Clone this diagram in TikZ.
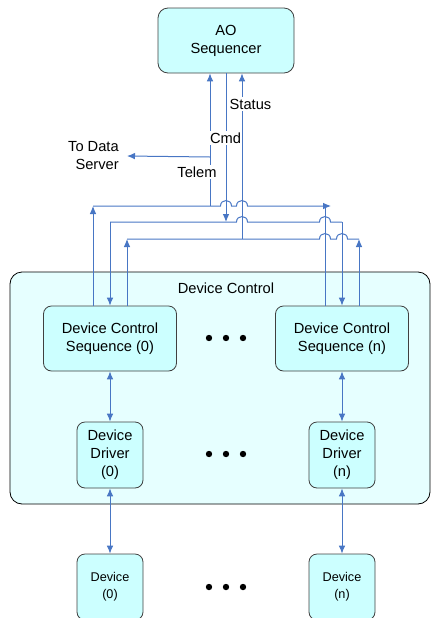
\documentclass[tikz,border=0pt]{standalone}
\usepackage{fontspec}
\setmainfont{Liberation Sans}
\usetikzlibrary{arrows.meta,calc}

\definecolor{boxfill}{RGB}{204,255,255}
\definecolor{ctlfill}{RGB}{230,255,255}
\definecolor{boxline}{RGB}{64,64,64}
\definecolor{sigblue}{RGB}{72,118,196}

\begin{document}
\begin{tikzpicture}[
  x=0.75pt, y=-0.75pt,
  font=\fontsize{11}{13.5}\selectfont,
  >={Latex[length=6pt,width=5pt]},
  blknode/.style={draw=boxline, fill=boxfill, line width=0.6pt, rounded corners=6pt, align=center, inner sep=0pt},
  seqnode/.style={blknode, rounded corners=7.5pt, minimum width=102pt, minimum height=48.75pt},
  ctlnode/.style={blknode, minimum width=99.75pt, minimum height=48.75pt},
  drvnode/.style={blknode, minimum width=49.5pt, minimum height=49.5pt},
  devnode/.style={drvnode, font=\fontsize{9.5}{12.5}\selectfont},
  sigline/.style={draw=sigblue, line width=0.75pt},
  lbltext/.style={fill=white, inner sep=1pt},
  hopover/.style 2 args={insert path={-- ({#1-5.5},#2) .. controls ({#1-5.5},{#2-7.3}) and ({#1+5.5},{#2-7.3}) .. ({#1+5.5},#2)}}
]
  \useasboundingbox (0,0) rectangle (432,618);
  \clip (0,0) rectangle (432,618);

  % device control frame
  \node[draw=black, fill=ctlfill, line width=0.6pt, rounded corners=9pt, minimum width=315pt, minimum height=174pt] (devctl) at (220,388) {};
  \node (ctltitle) at (226,288) {Device Control};

  % blocks
  \node[seqnode] (seq) at (226,40.5) {AO\\Sequencer};
  \node[ctlnode] (dcs0) at (110,338.5) {Device Control\\Sequence (0)};
  \node[ctlnode] (dcsn) at (342,338.5) {Device Control\\Sequence (n)};
  \node[drvnode] (dd0) at (110,455) {Device\\Driver\\(0)};
  \node[drvnode] (ddn) at (342,455) {Device\\Driver\\(n)};
  \node[devnode] (dev0) at (110,587) {Device\\(0)};
  \node[devnode] (devn) at (342,587) {Device\\(n)};
  \node[align=right, anchor=east, inner xsep=6pt, inner ysep=0pt] (dsrv) at (127,156) {To Data\\Server};

  % bus corners
  \coordinate (telw) at (93,206);
  \coordinate (telj) at (210,206);
  \coordinate (telr) at (325,206);
  \coordinate (tele) at (331,206);
  \coordinate (dsj) at (210,157);
  \coordinate (cmdw) at (110,222);
  \coordinate (cmde) at (342,222);
  \coordinate (staw) at (127,239);
  \coordinate (staj) at (242,239);
  \coordinate (stae) at (359,239);

  % telemetry
  \draw[sigline,->] (dcs0.north -| telw) -- (telw);
  \draw[sigline,->] (telw) [hopover={226}{206}] [hopover={242}{206}] -- (tele);
  \draw[sigline] (dcsn.north -| telr) -- (telr);
  \draw[sigline,->] (telj) -- (telj |- seq.south);
  \draw[sigline,->] (dsj) -- (dsrv.east);
  % command
  \draw[sigline,->] (seq.south) -- (seq.south |- cmdw);
  \draw[sigline] (cmdw) [hopover={242}{222}] [hopover={325}{222}] -- (cmde);
  \draw[sigline,->] (cmdw) -- (dcs0.north);
  \draw[sigline,->] (cmde) -- (dcsn.north);
  % status
  \draw[sigline,->] (dcs0.north -| staw) -- (staw);
  \draw[sigline,->] (dcsn.north -| stae) -- (stae);
  \draw[sigline] (staw) [hopover={325}{239}] [hopover={342}{239}] -- (stae);
  \draw[sigline,->] (staj) -- (staj |- seq.south);

  % sequence <-> driver <-> device
  \draw[sigline,<->] (dcs0) -- (dd0);
  \draw[sigline,<->] (dcsn) -- (ddn);
  \draw[sigline,<->] (dd0) -- (dev0);
  \draw[sigline,<->] (ddn) -- (devn);

  % line labels
  \node[lbltext] (tellbl) at (197,172) {Telem};
  \node[lbltext] (cmdlbl) at (225.5,138) {Cmd};
  \node[lbltext] (stalbl) at (250.5,104) {Status};

  \foreach \yy in {338,454,587}
    \foreach \dx in {-17,0,17}
      \fill ({226+\dx},\yy) circle[radius=2.4pt];
\end{tikzpicture}
\end{document}
